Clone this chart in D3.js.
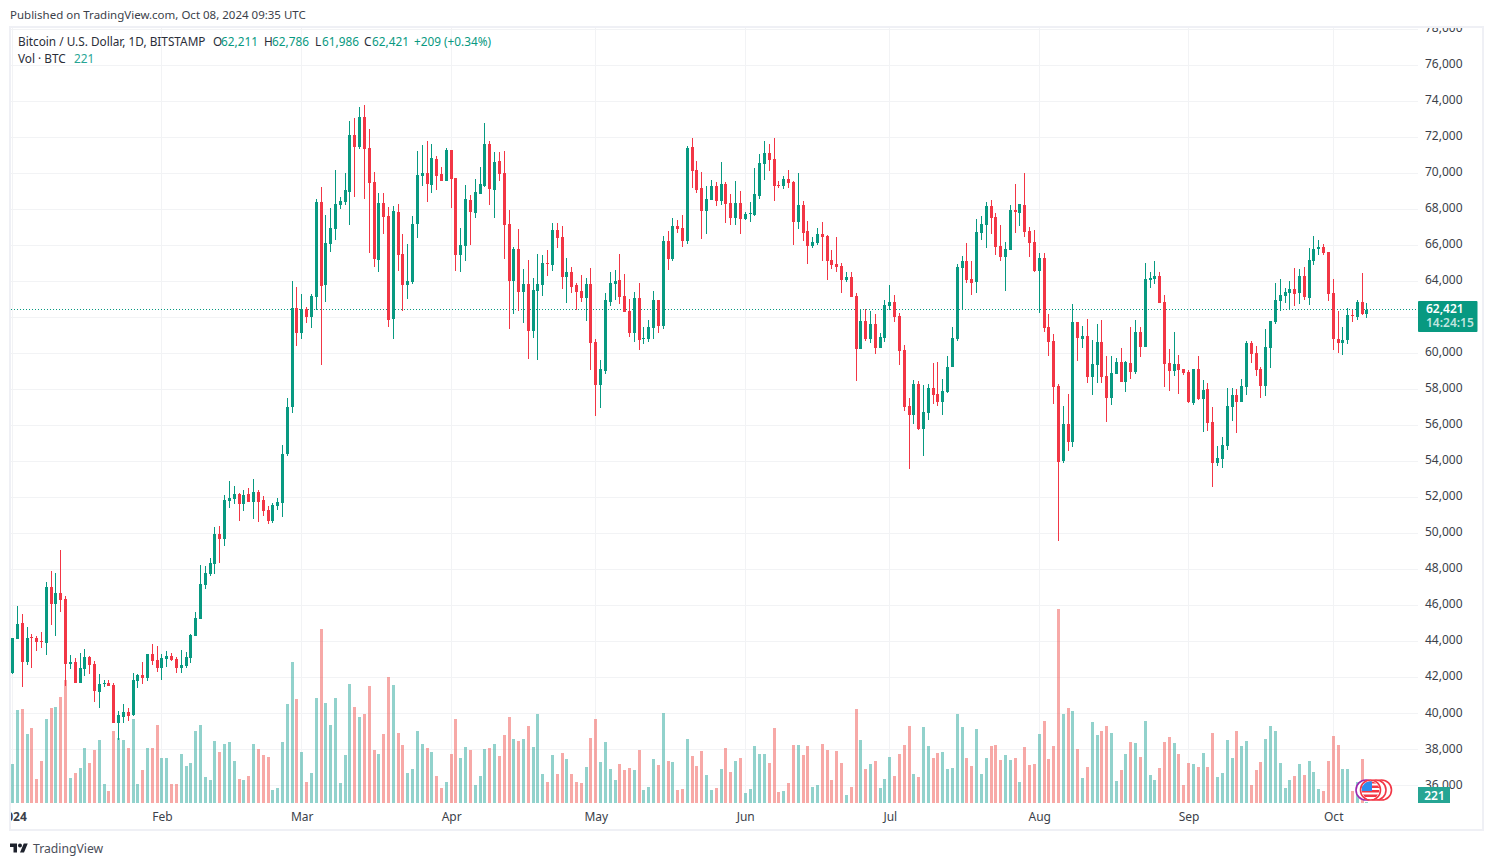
<!DOCTYPE html>
<html>
<head>
<meta charset="utf-8">
<title>BTCUSD</title>
<script src="https://cdnjs.cloudflare.com/ajax/libs/d3/7.8.5/d3.min.js"></script>
<style>
  html, body { margin: 0; padding: 0; background: #fff; }
  svg { display: block; }
  text { font-family: "Noto Sans", sans-serif; }
</style>
</head>
<body>
<div id="chart"></div>
<script>
var opens = [
42221,44129,45018,42851,44240,44185,44018,43907,47018,46074,
46685,46352,42740,42851,41685,42463,43130,42740,41185,41630,
41685,41574,39462,39796,40074,39907,41796,42130,41963,43296,
42963,42518,43018,43185,43018,42518,42630,43074,44296,45241,
47130,47741,48296,49963,49685,51796,51907,52185,51630,52185,
51741,52296,51852,51296,50685,51519,51685,54400,57000,62518,
61129,62463,62018,63130,68407,63796,66074,66907,68241,68407,
68963,72130,71463,73130,71407,69519,65185,68352,67630,61907,
67852,65519,63796,63963,67185,69852,70018,69352,70796,69963,
69574,71296,69741,65463,65963,68519,67796,68852,69296,71630,
69074,70685,70018,67185,64018,65796,63407,63852,61241,63463,
63796,65018,64907,66852,66463,64240,64518,63796,63462,63074,
63852,60630,58240,59018,62852,63852,64074,63185,62352,61129,
63074,60796,60796,61407,62963,61519,66240,65240,67074,66963,
66240,71463,70185,69185,67907,68519,69296,68463,69407,68352,
67519,68352,67463,67741,67685,68741,70519,71130,70796,69352,
69296,69685,69519,67296,68241,66796,65963,66130,66630,66519,
65185,64963,64852,64074,64240,63185,60240,61796,60796,61630,
60296,60852,62630,62852,62074,60185,57074,56574,58296,55796,
56685,58074,57741,57296,57852,59240,60796,64740,65130,64130,
63963,66685,67130,68185,67574,65963,65352,65741,67963,67796,
68241,66796,66185,64574,65296,61463,60685,58185,54018,56074,
55074,61741,60796,60963,58685,59352,60630,58741,57519,58852,
59519,58407,59463,58963,61185,60352,64074,64130,64296,62852,
59463,59018,59407,59130,58963,57240,59130,57463,58018,56185,
53907,54130,54852,57018,57685,57296,58130,60574,60018,59130,
58185,60296,61741,62907,63185,63352,63574,63352,64296,63074,
65130,65796,65907,65630,63352,60796,60574,60741,62130,62018,
62852,62211];

var highs = [
44185,45962,45518,44796,44407,44296,44518,47296,47907,47796,
49074,46518,43240,43074,43352,43574,43185,42907,42185,41852,
41852,41685,40130,40518,40296,42240,42185,42851,43296,43852,
43741,43296,43463,43352,43130,43519,43407,44407,45630,48240,
48185,48630,50352,50407,52130,52907,52630,52241,52407,52519,
53019,52407,52074,51519,51685,51963,54900,57500,64018,63685,
63296,62574,63296,68574,69241,67685,68074,70185,68685,70019,
72907,73074,73685,73796,72463,70074,68907,68907,68130,68185,
68296,66629,66074,67630,71241,71574,71796,71630,70963,70352,
71407,71296,69741,66963,69352,68796,69685,70352,72796,71796,
71185,71185,71241,67963,65907,66907,64685,65185,64185,65519,
65463,65741,67241,67241,67074,65296,64796,63907,64352,64185,
64740,60796,59630,63352,64519,64630,65519,64407,63018,63407,
63907,61463,61852,63463,62963,66519,66796,67519,67407,67685,
71519,71963,70685,70074,69296,69630,69519,70630,69519,68852,
69574,69018,67852,68407,70296,71074,71796,71630,71963,69574,
69852,70185,69574,70018,68463,67352,66463,66963,67296,66574,
65741,66463,65018,64519,64519,63352,62407,62463,62352,62185,
61130,62963,63796,63241,62241,60463,57519,58519,58463,58240,
58296,59463,59518,58574,59852,61463,64963,65407,66130,65130,
67463,67630,68407,68518,67796,67130,66185,68241,69407,68296,
70018,67018,66852,65574,65574,62185,61074,58296,57074,57741,
62741,61741,61519,61907,60740,61630,61852,59852,59852,59741,
60296,59574,61463,61852,61463,65018,64518,65130,64518,63241,
60240,61185,59907,59130,59074,59130,59852,58519,58352,57018,
54852,55352,58074,58074,58018,58574,60685,60685,60407,59241,
61352,61796,63907,64130,63630,64018,64741,64685,64796,65852,
66518,66296,66074,65630,64130,62352,61463,62518,62407,62963,
64463,62786];

var lows = [
42185,44129,41462,42685,42518,43462,43629,43240,44907,44296,
45629,41518,42463,41685,41685,42074,42185,40630,40296,41462,
41518,39462,38517,39462,39574,39852,41407,41630,41796,42685,
42296,41852,42574,42907,42240,42240,42518,42796,44296,45241,
46907,47630,47741,48352,49296,51407,51630,50685,51241,51741,
50796,50630,50963,50519,50593,51296,50907,54300,56700,60407,
60796,61685,61407,62407,59352,62852,65630,66296,68018,68240,
67130,68685,71352,68574,65574,64796,64519,66629,61463,60796,
64574,62352,63018,63852,66407,69296,68407,68907,69074,69574,
69574,68074,64574,64519,65130,66019,67519,68852,69240,68240,
67519,69574,65241,61352,62185,62352,61685,59685,60852,59630,
63185,64296,64574,65852,63574,62796,63352,62407,62852,61796,
59074,56519,56963,58852,62629,62963,62740,62296,60907,60630,
60185,60519,60630,60796,61129,61352,64630,65130,66685,65907,
66074,69185,68907,66352,66630,68519,68185,68240,67241,67130,
67130,66630,67407,67296,67630,68574,69630,70130,68463,69185,
69130,69185,66018,66907,66241,64963,65852,66018,65130,64074,
64685,64519,63352,63963,63129,58463,60240,60685,60574,59963,
60296,60630,62407,61740,59352,56796,53574,56074,55740,54296,
56296,57185,57074,56574,57796,59240,60685,62463,63907,63241,
63352,66296,65852,66630,65463,65130,63463,65741,66685,67074,
66463,65352,64519,62241,61185,59852,57185,49550,53900,54574,
54796,59574,60296,58352,57685,58352,58352,56185,57130,58852,
58407,57852,58574,58852,59796,60352,63630,63852,62796,58130,
57907,58741,57741,58796,57240,57130,57407,55630,55685,52574,
53741,53630,54630,56240,55574,57296,57685,59463,58741,57518,
57630,59185,61630,62352,62796,62407,62630,62741,62963,62685,
64907,65463,65463,62907,60185,60018,59907,60518,61741,61852,
62130,61986];

var closes = [
44185,44962,42851,44185,44185,43962,43981,47018,46074,46685,
46296,42740,42851,41685,42518,43130,42685,41240,41630,41685,
41518,39462,39907,40074,39852,41852,42130,41963,43296,42907,
42518,43074,43185,42963,42518,42685,43130,44352,45296,47185,
47796,48352,49963,49685,51852,51963,52185,51630,52130,51741,
52296,51741,51241,50685,51574,51741,54400,57000,62518,61129,
62463,62018,63185,68407,63740,66130,66963,68296,68463,69074,
72130,71463,73130,71352,69463,65241,68352,67574,61852,67907,
65463,63796,64018,67185,69907,70018,69407,70852,69852,69574,
71296,69685,65463,66019,68574,67852,68963,69407,71630,69130,
70630,69963,67130,64018,65796,63407,63852,61241,63519,63852,
65018,64963,66852,66407,64240,64518,63685,63407,63074,63852,
60574,58240,59130,62963,63907,64018,63129,62296,61129,63074,
60740,60852,61463,62963,61519,66240,65240,67074,66907,66240,
71407,70130,69074,67907,68574,69296,68463,69407,68296,67519,
68352,67463,67741,67796,68852,70574,71130,70741,69296,69296,
69685,69463,67296,68241,66685,65963,66185,66630,66463,65130,
64907,64796,64074,64240,63129,60240,61796,60796,61630,60296,
60907,62685,62852,62018,60129,57018,56574,58296,55796,56741,
58074,57685,57296,57907,59240,60852,64796,65130,64074,63907,
66741,67185,68185,67519,65907,65352,65796,67963,67852,68296,
66741,66130,64574,65296,61407,60630,58130,53963,56074,55074,
61741,60852,60963,58685,59407,60630,58685,57519,58907,59519,
58407,59519,58963,61185,60352,64130,64185,64296,62796,59407,
59018,59407,59074,58907,57296,59130,57463,57963,56130,53907,
54185,54907,57074,57685,57296,58185,60574,59963,59074,58185,
60352,61796,62963,63241,63407,63574,63296,64296,63130,65185,
65796,65907,65574,63296,60796,60574,60741,62130,62074,62852,
62185,62421];

var volumes = [
11700,27900,28200,20700,22500,7200,12600,25200,28500,28800,
31800,36900,7500,9000,10500,16500,12000,15900,18900,5700,
3600,21600,19500,18900,16500,25200,5700,9900,16500,16500,
23400,13500,13500,5700,5700,14700,11100,12000,21600,23400,
7800,6900,18600,15300,17700,18300,12600,7200,6900,8100,
17700,16200,14400,13800,3900,4500,18300,29700,42300,31200,
15300,6300,9000,31500,52200,30000,23400,31500,6000,14400,
35700,28800,25800,26700,35100,15900,14700,20700,37800,35400,
21000,17400,9000,10200,21600,17700,16500,15300,8100,4500,
6300,14700,25200,13500,16800,15900,5400,8100,16200,16500,
17700,14100,20400,25800,19200,18600,19200,23100,16800,26700,
8700,6300,14400,8700,15000,13200,8700,6300,6000,10800,
19500,25200,12300,18300,10200,6900,11700,9900,10500,9900,
15900,3900,4800,13200,11400,27000,12600,12300,3900,4200,
19200,14100,11100,15600,8400,3900,4500,10200,16500,9300,
12600,13500,3000,4200,17100,14700,14700,12000,22500,3300,
3600,6000,17400,17400,14400,17100,4800,5400,17700,15900,
6900,15600,12000,2400,4800,28200,18900,10200,11700,12600,
4500,7200,13800,8100,14700,17400,23100,8700,7800,22800,
17100,13500,15000,15300,10200,10500,26700,22800,13500,11100,
22200,8700,13500,17100,17400,12900,14400,12900,13500,6300,
16800,11400,11700,20700,24600,13200,17100,58200,26700,28500,
27600,16200,7500,10800,24300,20400,21600,23100,21000,6600,
9900,14700,18300,18000,13800,24600,8400,6900,10500,18300,
19800,18000,14700,5400,12000,11700,10800,15000,10800,21000,
7800,9000,18900,13500,21600,17100,18600,5400,9900,12300,
19200,23100,21600,12000,4500,6900,8100,11700,8400,12600,
9300,4200,3600,12600,20100,17400,10200,10200,3600,6300,
13200,221];

// candle index of the first day of each month, Jan 1 2024 = 0
var monthTicks = [0, 31, 60, 91, 121, 152, 182, 213, 244, 274];
var monthLabels = ["2024", "Feb", "Mar", "Apr", "May", "Jun", "Jul", "Aug", "Sep", "Oct"];
var priceTicks = d3.range(36000, 78001, 2000);

var lastPrice = 62421;
var lastVolume = 221;
var legendParts = [
    ["Bitcoin / U.S. Dollar, 1D, BITSTAMP", 18, "#2a2e39"],
    ["O", 213, "#2a2e39"], ["62,211", 221, "#089981"],
    ["H", 264, "#2a2e39"], ["62,786", 272, "#089981"],
    ["L", 315, "#2a2e39"], ["61,986", 322, "#089981"],
    ["C", 364, "#2a2e39"], ["62,421", 372, "#089981"],
    ["+209 (+0.34%)", 414, "#089981"]
];

var UP = "#089981";
var DOWN = "#f23645";
var VOL_UP = "#26a69a";
var VOL_DOWN = "#ef5350";

function chart() {
    var width = 1493;
    var height = 866;
    var plotLeft = 11, plotRight = 1418, plotTop = 28, plotBottom = 803;

    var svg = d3.select("#chart")
                .append("svg")
                .attr("width", width)
                .attr("height", height);

    var defs = svg.append("defs");
    defs.append("clipPath").attr("id", "plot")
        .append("rect")
        .attr("x", plotLeft).attr("y", plotTop)
        .attr("width", plotRight - plotLeft).attr("height", plotBottom - plotTop);
    defs.append("clipPath").attr("id", "frame")
        .append("rect")
        .attr("x", plotLeft).attr("y", plotTop)
        .attr("width", 1482 - plotLeft).attr("height", 829 - plotTop);
    defs.append("clipPath").attr("id", "flagClip")
        .append("circle").attr("cx", 1370.5).attr("cy", 790).attr("r", 8.8);

    var xScale = d3.scaleLinear()
                    .domain([0, opens.length - 1])
                    .range([12.55, 12.55 + 4.82 * (opens.length - 1)]);

    var yScale = d3.scaleLinear()
                    .domain([60000, 36000])
                    .range([353.3, 785.3]);

    var volScale = d3.scaleLinear()
                    .domain([0, d3.max(volumes)])
                    .range([plotBottom, 609]);

    function px(i) { return Math.floor(xScale(i)); }
    function isUp(i) { return closes[i] >= opens[i]; }

    var plot = svg.append("g").attr("clip-path", "url(#plot)");

    // Grid
    plot.append("g").selectAll("line")
        .data(priceTicks)
        .enter()
        .append("line")
        .attr("x1", plotLeft).attr("x2", plotRight)
        .attr("y1", function(d) { return Math.floor(yScale(d)) + 0.5; })
        .attr("y2", function(d) { return Math.floor(yScale(d)) + 0.5; })
        .attr("stroke", "#f2f3f5");

    plot.append("g").selectAll("line")
        .data(monthTicks)
        .enter()
        .append("line")
        .attr("x1", function(d) { return px(d) + 0.5; })
        .attr("x2", function(d) { return px(d) + 0.5; })
        .attr("y1", plotTop).attr("y2", plotBottom)
        .attr("stroke", "#f2f3f5");

    // Volume bars
    plot.append("g").selectAll("rect")
        .data(volumes)
        .enter()
        .append("rect")
        .attr("x", function(d, i) { return px(i) - 1; })
        .attr("y", function(d) { return volScale(d); })
        .attr("width", 3)
        .attr("height", function(d) { return plotBottom - volScale(d); })
        .attr("shape-rendering", "crispEdges")
        .attr("fill", function(d, i) { return isUp(i) ? VOL_UP : VOL_DOWN; })
        .attr("fill-opacity", 0.5);

    // Last price line
    plot.append("line")
        .attr("x1", plotLeft).attr("x2", plotRight)
        .attr("y1", Math.floor(yScale(lastPrice)) + 0.5)
        .attr("y2", Math.floor(yScale(lastPrice)) + 0.5)
        .attr("stroke", UP)
        .attr("stroke-dasharray", "1 2");

    // Candles
    var candles = plot.append("g").selectAll("g")
        .data(opens)
        .enter()
        .append("g")
        .attr("fill", function(d, i) { return isUp(i) ? UP : DOWN; })
        .attr("shape-rendering", "crispEdges");

    candles.append("rect")
        .attr("x", function(d, i) { return px(i); })
        .attr("y", function(d, i) { return yScale(highs[i]); })
        .attr("width", 1)
        .attr("height", function(d, i) { return yScale(lows[i]) - yScale(highs[i]); });

    candles.append("rect")
        .attr("x", function(d, i) { return px(i) - 1; })
        .attr("y", function(d, i) { return yScale(Math.max(opens[i], closes[i])); })
        .attr("width", 3)
        .attr("height", function(d, i) {
            return Math.max(1, Math.abs(yScale(opens[i]) - yScale(closes[i])));
        });

    // Event marker on the volume pane
    [[1381.5, DOWN], [1376, DOWN], [1366, "#9c27b0"], [1370.5, DOWN]].forEach(function(ring) {
        svg.append("circle")
            .attr("cx", ring[0]).attr("cy", 790).attr("r", 10)
            .attr("fill", "#fff")
            .attr("stroke", ring[1])
            .attr("stroke-width", 1.6);
    });
    var flag = svg.append("g").attr("clip-path", "url(#flagClip)");
    flag.append("rect").attr("x", 1361).attr("y", 781).attr("width", 19).attr("height", 18).attr("fill", "#fff");
    flag.selectAll(".stripe")
        .data([781, 785.5, 790, 794.5])
        .enter()
        .append("rect")
        .attr("x", 1361).attr("y", function(d) { return d; })
        .attr("width", 19).attr("height", 2.5)
        .attr("fill", DOWN);
    flag.append("rect").attr("x", 1361).attr("y", 781).attr("width", 11).attr("height", 10).attr("fill", "#2d8cf0");

    // Price axis, 62,000 sits behind the last price tag
    var yAxis = d3.axisRight()
                .scale(yScale)
                .tickValues(priceTicks.filter(function(d) { return d !== 62000; }))
                .tickFormat(d3.format(","))
                .tickSize(0)
                .tickPadding(0);

    var priceAxis = svg.append("g")
        .attr("clip-path", "url(#frame)")
        .append("g")
        .attr("transform", "translate(1425, -2)")
        .call(yAxis);
    priceAxis.select(".domain").remove();
    priceAxis.selectAll("text")
        .attr("y", function(d) { return d <= 40000 ? 1 : 0; })
        .style("font-family", '"Noto Sans", sans-serif')
        .style("font-size", "12px")
        .attr("fill", "#3b3f4a");

    // Time axis
    var xAxis = d3.axisBottom()
                .scale(xScale)
                .tickValues(monthTicks)
                .tickFormat(function(d, i) { return monthLabels[i]; })
                .tickSize(0)
                .tickPadding(0);

    var timeAxis = svg.append("g")
        .attr("clip-path", "url(#frame)")
        .append("g")
        .attr("transform", "translate(0, 812)")
        .call(xAxis);
    timeAxis.select(".domain").remove();
    timeAxis.selectAll("text")
        .style("font-family", '"Noto Sans", sans-serif')
        .style("font-size", "12px")
        .style("font-weight", function(d, i) { return i === 0 ? "700" : "400"; })
        .attr("fill", "#3b3f4a");

    // Frame
    svg.append("rect")
        .attr("x", 10).attr("y", 27)
        .attr("width", 1473).attr("height", 803)
        .attr("fill", "none")
        .attr("stroke", "#eff0f5")
        .attr("stroke-width", 2);

    // Last price and volume tags
    svg.append("rect")
        .attr("x", plotRight).attr("y", 301)
        .attr("width", 59.5).attr("height", 31)
        .attr("rx", 1)
        .attr("fill", UP);
    svg.append("text")
        .attr("x", 1426).attr("y", 312.5)
        .attr("fill", "#fff").attr("font-size", 12).attr("font-weight", 600)
        .text(d3.format(",")(lastPrice));
    svg.append("text")
        .attr("x", 1426).attr("y", 326.5)
        .attr("fill", "#fff").attr("fill-opacity", 0.75).attr("font-size", 12).attr("font-weight", 600)
        .text("14:24:15");
    svg.append("rect")
        .attr("x", plotRight).attr("y", 787)
        .attr("width", 32).attr("height", 16)
        .attr("fill", "#26a594");
    svg.append("text")
        .attr("x", 1434.5).attr("y", 799.5)
        .attr("text-anchor", "middle")
        .attr("fill", "#fff").attr("font-size", 12).attr("font-weight", 600)
        .text(lastVolume);

    // Legend
    svg.append("g").selectAll("text")
        .data(legendParts)
        .enter()
        .append("text")
        .attr("x", function(d) { return d[1]; })
        .attr("y", 46)
        .attr("font-size", 11.8)
        .attr("fill", function(d) { return d[2]; })
        .text(function(d) { return d[0]; });
    svg.append("text")
        .attr("x", 18).attr("y", 63)
        .attr("font-size", 11.8).attr("fill", "#2a2e39")
        .text("Vol · BTC");
    svg.append("text")
        .attr("x", 74).attr("y", 63)
        .attr("font-size", 11.8).attr("fill", "#26a594")
        .text(lastVolume);

    // Header and footer
    svg.append("text")
        .attr("x", 10).attr("y", 19)
        .attr("font-size", 11.5).attr("fill", "#3b3f4a")
        .text("Published on TradingView.com, Oct 08, 2024 09:35 UTC");

    var logo = svg.append("g")
        .attr("transform", "translate(10, 841.5) scale(0.5)")
        .attr("fill", "#1e222d");
    logo.append("path").attr("d", "M14 22H7V11H0V4h14v18zM28 22h-8l7.5-18h8L28 22z");
    logo.append("circle").attr("cx", 20).attr("cy", 8).attr("r", 4);
    svg.append("text")
        .attr("x", 33).attr("y", 853)
        .attr("font-size", 12.2).attr("fill", "#4a4e59")
        .text("TradingView");
}

window.onload = chart;
</script>
</body>
</html>
